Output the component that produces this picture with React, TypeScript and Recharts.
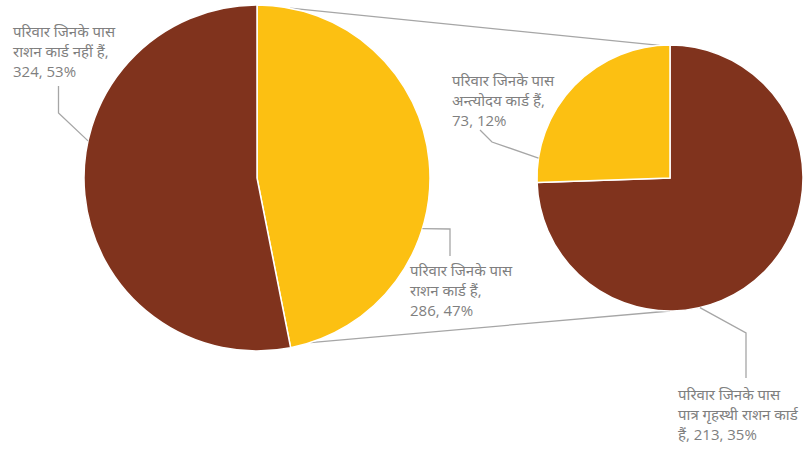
import { PieChart, Pie, Cell, Customized } from "recharts";

// left pie: all households
const mainNames = ["परिवार जिनके पास\nराशन कार्ड हैं,", "परिवार जिनके पास\nराशन कार्ड नहीं हैं,"];
const mainValues = [286, 324];
// right pie: breakdown of households with a ration card
const subNames = ["परिवार जिनके पास\nपात्र गृहस्थी राशन कार्ड\nहैं,", "परिवार जिनके पास\nअन्त्योदय कार्ड हैं,"];
const subValues = [213, 73];

const BROWN = "#80331d";
const YELLOW = "#fcc012";
const TEXT = "#7f7f7f";
const LINE = "#a6a6a6";

const mainColors = [YELLOW, BROWN];
const subColors = [BROWN, YELLOW];

const total = mainValues.reduce((a, b) => a + b, 0);

const mainData = mainNames.map((name, i) => ({ name, value: mainValues[i] }));
const subData = subNames.map((name, i) => ({ name, value: subValues[i] }));

const MAIN = { cx: 257, cy: 178, r: 173 };
const SUB = { cx: 670, cy: 178, r: 133 };

// label layout: leader start angle on the rim, elbow points, text anchor
type LabelPos = { angle: number; path: [number, number][]; tx: number; ty: number; inline?: boolean };
const mainLabels: LabelPos[] = [
  { angle: -17, path: [[450, 229], [450, 256]], tx: 410, ty: 276 },
  { angle: 167.6, path: [[58.5, 113], [58.5, 86]], tx: 13, ty: 37 },
];
const subLabels: LabelPos[] = [
  { angle: -77, path: [[746, 333], [746, 378]], tx: 678, ty: 400, inline: true },
  { angle: 171.4, path: [[492, 142], [480, 130]], tx: 452, ty: 86 },
];

const RAD = Math.PI / 180;
const polar = (cx: number, cy: number, r: number, a: number): [number, number] => [
  cx + r * Math.cos(a * RAD),
  cy - r * Math.sin(a * RAD),
];

const makeLabel = (layout: LabelPos[]) => (props: any) => {
  const { cx, cy, outerRadius, index, value, name } = props;
  const l = layout[index];
  const start = polar(cx, cy, outerRadius, l.angle);
  const pts = [start, ...l.path].map((p) => p.join(",")).join(" ");
  const pct = `${value}, ${Math.round((value / total) * 100)}%`;
  const lines: string[] = String(name).split("\n");
  if (l.inline) lines[lines.length - 1] += ` ${pct}`;
  else lines.push(pct);
  return (
    <g>
      <polyline points={pts} fill="none" stroke={LINE} strokeWidth={1.3} />
      <text x={l.tx} y={l.ty} fill={TEXT} fontSize={15} textAnchor="start">
        {lines.map((t, i) => (
          <tspan key={i} x={l.tx} dy={i === 0 ? 0 : 20}>
            {t}
          </tspan>
        ))}
      </text>
    </g>
  );
};

const Connectors = () => {
  const a = polar(MAIN.cx, MAIN.cy, MAIN.r, 79);
  const b = polar(SUB.cx, SUB.cy, SUB.r, 94.5);
  const c = polar(MAIN.cx, MAIN.cy, MAIN.r, -72);
  const d = polar(SUB.cx, SUB.cy, SUB.r, -90);
  return (
    <g stroke={LINE} strokeWidth={1.3}>
      <line x1={a[0]} y1={a[1]} x2={b[0]} y2={b[1]} />
      <line x1={c[0]} y1={c[1]} x2={d[0]} y2={d[1]} />
    </g>
  );
};

export default function App() {
  return (
    <div style={{ position: "absolute", left: 0, top: 0, fontFamily: "'Open Sans', 'Noto Sans', sans-serif" }}>
      <PieChart width={811} height={450} margin={{ top: 0, right: 0, bottom: 0, left: 0 }}>
        <Customized component={Connectors} />
        <Pie
          data={mainData}
          dataKey="value"
          nameKey="name"
          cx={MAIN.cx}
          cy={MAIN.cy}
          outerRadius={MAIN.r}
          startAngle={90}
          endAngle={-270}
          stroke="#ffffff"
          strokeWidth={1.5}
          label={makeLabel(mainLabels)}
          labelLine={false}
          isAnimationActive={false}
        >
          {mainData.map((_, i) => (
            <Cell key={i} fill={mainColors[i]} />
          ))}
        </Pie>
        <Pie
          data={subData}
          dataKey="value"
          nameKey="name"
          cx={SUB.cx}
          cy={SUB.cy}
          outerRadius={SUB.r}
          startAngle={90}
          endAngle={-270}
          stroke="#ffffff"
          strokeWidth={1.5}
          label={makeLabel(subLabels)}
          labelLine={false}
          isAnimationActive={false}
        >
          {subData.map((_, i) => (
            <Cell key={i} fill={subColors[i]} />
          ))}
        </Pie>
      </PieChart>
    </div>
  );
}
